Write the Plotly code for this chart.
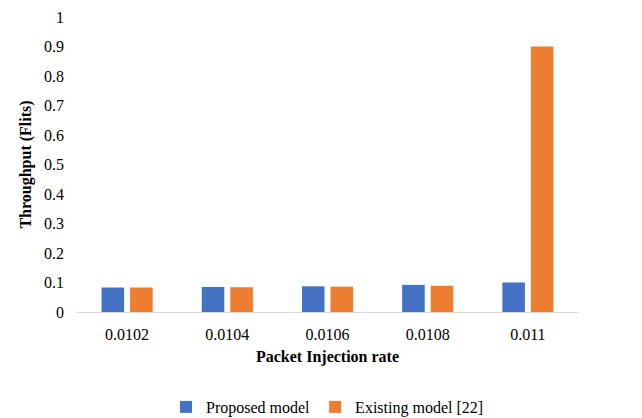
import plotly.graph_objects as go

# Packet injection rates (categories) and measured throughput for each model
injection_rates = ["0.0102", "0.0104", "0.0106", "0.0108", "0.011"]
proposed_throughput = [0.083, 0.085, 0.087, 0.092, 0.100]
existing_throughput = [0.083, 0.084, 0.086, 0.089, 0.900]
y_ticks = [0, 0.1, 0.2, 0.3, 0.4, 0.5, 0.6, 0.7, 0.8, 0.9, 1]
y_tick_text = ["0", "0.1", "0.2", "0.3", "0.4", "0.5", "0.6", "0.7", "0.8", "0.9", "1"]

serif = "Liberation Serif"

fig = go.Figure()
fig.add_trace(go.Bar(
    x=injection_rates, y=proposed_throughput, name="Proposed model",
    marker=dict(color="#4472C4", line=dict(width=0)),
))
fig.add_trace(go.Bar(
    x=injection_rates, y=existing_throughput, name="Existing model [22]",
    marker=dict(color="#ED7D31", line=dict(width=0)),
))

fig.update_layout(
    width=642, height=418,
    margin=dict(l=77, r=64, t=17, b=106, autoexpand=False),
    paper_bgcolor="white", plot_bgcolor="white",
    barmode="group", bargap=0.43, bargroupgap=0.21,
    font=dict(family=serif, size=16, color="#000000"),
    showlegend=True,
    legend=dict(
        orientation="h", x=0.5, xanchor="center", y=-0.322, yanchor="middle",
        font=dict(family=serif, size=16, color="#000000"),
        traceorder="normal",
    ),
)
fig.update_xaxes(
    type="category",
    showline=True, linecolor="#D9D9D9", linewidth=1,
    showgrid=False, ticks="", ticklabelstandoff=8,
    tickfont=dict(family=serif, size=16),
    title=dict(text="<b>Packet Injection rate</b>", font=dict(family=serif, size=16), standoff=8),
)
fig.update_yaxes(
    range=[0, 1], tickvals=y_ticks, ticktext=y_tick_text,
    showgrid=False, zeroline=False, showline=False, ticks="",
    ticklabelstandoff=12,
    tickfont=dict(family=serif, size=16),
    title=dict(text="<b>Throughput (Flits)</b>", font=dict(family=serif, size=16), standoff=8),
)

fig.write_html("out.html")
